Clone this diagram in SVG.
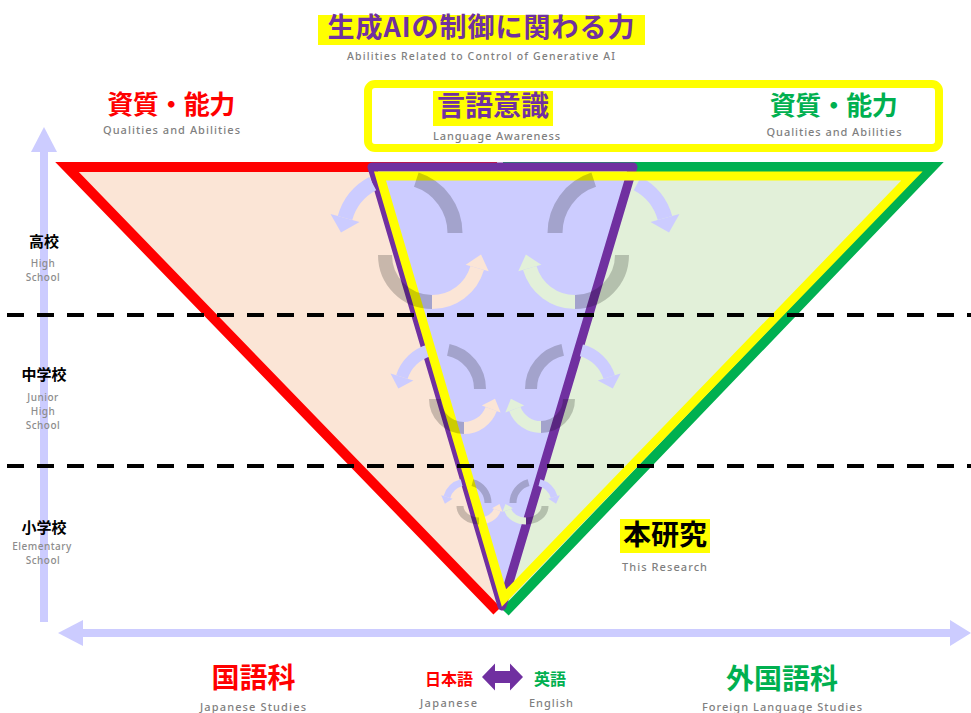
<svg xmlns="http://www.w3.org/2000/svg" width="971" height="713" viewBox="0 0 971 713">
<defs>
<style>
.jp{font-family:"Noto Sans CJK JP","Noto Sans",sans-serif;font-weight:700;text-anchor:middle}
.en{font-family:"Noto Sans","Open Sans",sans-serif;font-weight:500;fill:#7f7f7f;text-anchor:middle;font-size:11px}
.sm{font-family:"Noto Sans","Open Sans",sans-serif;font-weight:500;fill:#8c8c8c;text-anchor:middle;font-size:10px;letter-spacing:0.5px}
.lvl{font-family:"Noto Sans CJK JP","Noto Sans",sans-serif;font-weight:700;text-anchor:middle;font-size:15px;fill:#000}
.axis{fill:#ccccff}
.dash{stroke:#000;stroke-width:4;stroke-dasharray:17 13;stroke-dashoffset:23;fill:none}
.lav{fill:none;stroke:#ccccff}
.lavh{fill:#ccccff}
.gr{fill:none;stroke:#000;stroke-opacity:.2}
.pe{fill:none;stroke:#fbe5d6}
.peh{fill:#fbe5d6}
.lg{fill:none;stroke:#e2f0d9}
.lgh{fill:#e2f0d9}
.hl{fill:#ffff00}
</style>
</defs>
<rect x="0" y="0" width="971" height="713" fill="#ffffff"/>

<g id="axes">
  <rect class="axis" x="40" y="151" width="8" height="471"/>
  <polygon class="axis" points="44,127 57,152 31,152"/>
  <rect class="axis" x="82" y="629" width="869" height="8"/>
  <polygon class="axis" points="58,633 83,620 83,646"/>
  <polygon class="axis" points="971,633 950,620 950,646"/>
</g>

<g id="tri-japanese">
  <polygon points="67,167 497,167 497,611" fill="#fbe5d6"/>
  <path d="M497,167 H67 L497,611" fill="none" stroke="#ff0000" stroke-width="10" stroke-linejoin="miter"/>
</g>
<g id="tri-foreign">
  <polygon points="503,167 932,167 505,612" fill="#e2f0d9"/>
  <path d="M503,167 H932 L505,612" fill="none" stroke="#00b050" stroke-width="10" stroke-linejoin="miter"/>
</g>
<g id="tri-language-awareness">
  <polygon points="372,167 633,167 502,606" fill="#ccccff" stroke="#7030a0" stroke-width="9" stroke-linejoin="round"/>
</g>

<g id="cycle-arrows">
  <path class="lav" stroke-width="15" d="M372.7,183.6 A56,56 0 0 0 345,218"/>
  <polygon class="lavh" points="359.5,222 341,232.5 330.5,214"/>
  <path class="pe" stroke-width="14" d="M432,302 A47,47 0 0 0 477.2,268"/>
  <polygon class="peh" points="488.7,271.3 481,254.5 465.7,264.7"/>
  <path class="lav" stroke-width="15" d="M637.3,183.6 A56,56 0 0 1 665,218"/>
  <polygon class="lavh" points="679.5,214 669,232.5 650.5,222"/>
  <path class="lg" stroke-width="14" d="M575,302 A47,47 0 0 1 529.8,268"/>
  <polygon class="lgh" points="541.3,264.7 525.9,254.5 518.3,271.3"/>

  <path class="lav" stroke-width="12" d="M429.6,350.4 A40,40 0 0 0 401.9,377"/>
  <polygon class="lavh" points="413.3,380.6 398.3,388.4 390.5,373.4"/>
  <path class="pe" stroke-width="12" d="M464,428 A29,29 0 0 0 491.2,409"/>
  <polygon class="peh" points="500.6,412.5 495,398.7 481.8,405.5"/>
  <path class="lav" stroke-width="12" d="M581.4,350.4 A40,40 0 0 1 609.2,377"/>
  <polygon class="lavh" points="620.6,373.4 612.8,388.4 597.8,380.6"/>
  <path class="lg" stroke-width="12" d="M541,427 A28,28 0 0 1 514.8,409"/>
  <polygon class="lgh" points="524.2,405.4 510.9,398.7 505.4,412.6"/>

  <path class="lav" stroke-width="7" d="M461.6,482.7 A21,21 0 0 0 446.9,497"/>
  <polygon class="lavh" points="452.6,498.7 444.9,503.7 441.2,495.3"/>
  <path class="pe" stroke-width="7" d="M479,521 A19,15 0 0 0 497.3,510"/>
  <polygon class="peh" points="502.5,511.8 499.5,503.9 492.1,508.2"/>
  <path class="lav" stroke-width="7" d="M539.4,482.7 A21,21 0 0 1 554.1,497"/>
  <polygon class="lavh" points="559.8,495.3 556.1,503.7 548.4,498.7"/>
  <path class="lg" stroke-width="7" d="M526,521 A19,15 0 0 1 507.7,510"/>
  <polygon class="lgh" points="512.9,508.2 505.5,503.9 502.5,511.8"/>
</g>

<g id="tri-this-research">
  <polygon points="380,176 912,176 504,598" fill="none" stroke="#ffff00" stroke-width="9" stroke-linejoin="miter"/>
</g>

<g id="school-dividers">
  <line class="dash" x1="0" y1="315" x2="971" y2="315"/>
  <line class="dash" x1="0" y1="466" x2="971" y2="466"/>
</g>

<g id="cycle-arcs">
  <path class="gr" stroke-width="15" d="M416.3,179.7 A56,56 0 0 1 455,233"/>
  <path class="gr" stroke-width="14" d="M385,255 A47,47 0 0 0 432,302"/>
  <path class="gr" stroke-width="15" d="M555,233 A56,56 0 0 1 593.7,179.7"/>
  <path class="gr" stroke-width="14" d="M575,302 A47,47 0 0 0 622,255"/>
  <path class="gr" stroke-width="12" d="M448.3,349.9 A40,40 0 0 1 480,389"/>
  <path class="gr" stroke-width="12" d="M435,399 A29,29 0 0 0 464,428"/>
  <path class="gr" stroke-width="12" d="M531,389 A40,40 0 0 1 562.7,349.9"/>
  <path class="gr" stroke-width="12" d="M541,427 A28,28 0 0 0 569,399"/>
  <path class="gr" stroke-width="7" d="M472.4,482.7 A21,21 0 0 1 488,503"/>
  <path class="gr" stroke-width="7" d="M460,506 A19,15 0 0 0 479,521"/>
  <path class="gr" stroke-width="7" d="M513,503 A21,21 0 0 1 528.6,482.7"/>
  <path class="gr" stroke-width="7" d="M526,521 A19,15 0 0 0 545,506"/>
</g>

<g id="title">
  <rect class="hl" x="318" y="15" width="327" height="30"/>
  <text class="jp" x="481.5" y="37" font-size="27" fill="#7030a0" letter-spacing="1">生成AIの制御に関わる力</text>
  <text class="en" x="481" y="60" textLength="268" style="font-size:10.5px">Abilities Related to Control of Generative AI</text>
</g>

<g id="label-qualities-left">
  <text class="jp" x="171" y="114" font-size="26" fill="#ff0000" letter-spacing="-0.5">資質・能力</text>
  <text class="en" x="171.5" y="134" textLength="137">Qualities and Abilities</text>
</g>

<g id="box-right">
  <rect x="368" y="84" width="571" height="64" rx="7" fill="none" stroke="#ffff00" stroke-width="8"/>
  <rect class="hl" x="433" y="91" width="120" height="35"/>
  <text class="jp" x="493" y="116" font-size="28" fill="#7030a0">言語意識</text>
  <text class="en" x="496.5" y="140" textLength="127">Language Awareness</text>
  <text class="jp" x="833.5" y="115" font-size="26" fill="#00b050" letter-spacing="-0.5">資質・能力</text>
  <text class="en" x="834" y="135.5" textLength="135">Qualities and Abilities</text>
</g>

<g id="level-high">
  <text class="lvl" x="44" y="247">高校</text>
  <text class="sm" x="43" y="267">High<tspan x="43" dy="13.8">School</tspan></text>
</g>
<g id="level-junior">
  <text class="lvl" x="44" y="380">中学校</text>
  <text class="sm" x="43" y="401">Junior<tspan x="43" dy="13.8">High</tspan><tspan x="43" dy="13.8">School</tspan></text>
</g>
<g id="level-elementary">
  <text class="lvl" x="44" y="533">小学校</text>
  <text class="sm" x="42" y="550">Elementary<tspan x="43" dy="13.8">School</tspan></text>
</g>

<g id="label-this-research">
  <rect class="hl" x="620" y="519" width="90" height="34"/>
  <text class="jp" x="665" y="545" font-size="28" fill="#000000">本研究</text>
  <text class="en" x="664.5" y="571" textLength="85">This Research</text>
</g>

<g id="label-japanese-studies">
  <text class="jp" x="253.5" y="688" font-size="28" fill="#ff0000">国語科</text>
  <text class="en" x="253" y="711" textLength="106">Japanese Studies</text>
</g>

<g id="label-languages">
  <text class="jp" x="449" y="685" font-size="16" fill="#ff0000">日本語</text>
  <text class="en" x="448.5" y="707" textLength="57">Japanese</text>
  <polygon points="482,677 495,663.5 495,671 510,671 510,663.5 523,677 510,690.5 510,683 495,683 495,690.5" fill="#7030a0"/>
  <text class="jp" x="550" y="685" font-size="16" fill="#00b050">英語</text>
  <text class="en" x="551" y="707" textLength="44">English</text>
</g>

<g id="label-foreign-studies">
  <text class="jp" x="782" y="689" font-size="28" fill="#00b050">外国語科</text>
  <text class="en" x="782" y="711" textLength="160">Foreign Language Studies</text>
</g>
</svg>
